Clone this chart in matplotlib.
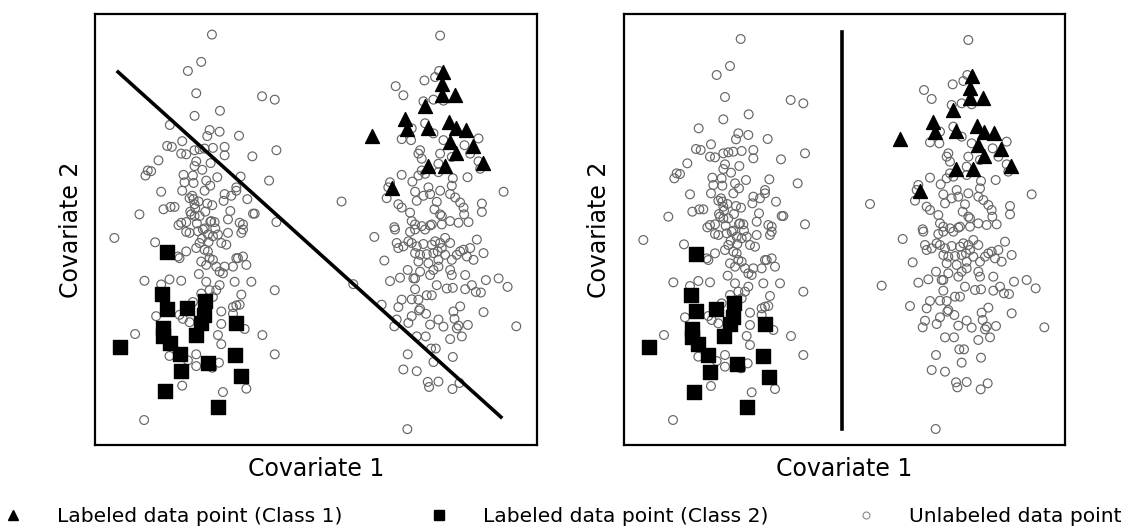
import numpy as np
import matplotlib
matplotlib.use("Agg")
import matplotlib.pyplot as plt
from matplotlib.lines import Line2D

# Puntos etiquetados, clase 1 (triángulos)
class1_x = [1043, 1038, 1038, 1078, 988, 928, 933, 996, 828, 1060, 1080, 1111,
            1063, 1131, 1080, 996, 1048, 1161, 888]
class1_y = [185, 223, 253, 253, 288, 325, 355, 351, 376, 335, 353, 358,
            393, 406, 426, 465, 466, 456, 531]

# Puntos etiquetados, clase 2 (cuadrados)
class2_x = [216, 201, 215, 275, 330, 326, 318, 301, 205, 203, 223, 75, 253,
            423, 418, 338, 258, 436, 210, 368]
class2_y = [721, 843, 890, 886, 866, 908, 931, 966, 946, 968, 991, 1000, 1023,
            930, 1025, 1050, 1073, 1088, 1133, 1178]

# Puntos sin etiqueta
unl_left = [
    (350, 75), (318, 156), (278, 183), (303, 249), (500, 258), (538, 268), (374, 301),
    (298, 316), (224, 343), (343, 358), (336, 376), (373, 363), (431, 375), (261, 391),
    (216, 405), (230, 408), (298, 418), (313, 415), (328, 413), (353, 411), (388, 408),
    (388, 433), (258, 428), (273, 430), (543, 418), (471, 436), (190, 448), (303, 451),
    (298, 465), (346, 456), (321, 476), (158, 478), (168, 480), (151, 493), (265, 491),
    (293, 493), (366, 498), (436, 496), (521, 508), (268, 513), (295, 515), (333, 508),
    (345, 523), (198, 541), (261, 538), (291, 553), (295, 563), (298, 578), (328, 538),
    (388, 548), (408, 553), (423, 528), (423, 538), (336, 576), (351, 581), (385, 568),
    (405, 598), (456, 563), (226, 586), (238, 586), (205, 593), (133, 608), (473, 606),
    (478, 606), (543, 631), (258, 633), (273, 631), (288, 608), (298, 613), (313, 613),
    (348, 628), (358, 631), (398, 623), (433, 633), (443, 638), (283, 560), (300, 590),
    (285, 600), (310, 570), (330, 600), (345, 630), (360, 650), (328, 650), (250, 640),
    (305, 635), (320, 680), (340, 690),
    (58, 678), (180, 691), (273, 660), (283, 663), (308, 658), (323, 653), (338, 668),
    (353, 673), (368, 668), (378, 693), (398, 663), (393, 698), (438, 663), (443, 653),
    (248, 733), (253, 738), (273, 718), (303, 708), (313, 693), (328, 713), (338, 718),
    (343, 738), (318, 748), (333, 758), (353, 743), (363, 763), (373, 778), (383, 783),
    (388, 763), (413, 763), (423, 738), (428, 738), (443, 733), (453, 758), (148, 805),
    (198, 816), (223, 801), (258, 805), (311, 785), (333, 808), (373, 818), (363, 833),
    (418, 808), (468, 808), (538, 833), (318, 843), (343, 833), (353, 853), (438, 846),
    (413, 883), (423, 878), (433, 876), (293, 868), (183, 910), (253, 906), (263, 918),
    (283, 928), (378, 896), (378, 933), (368, 966), (378, 993), (448, 948), (501, 966),
    (120, 963), (413, 903), (223, 1028), (278, 1041), (303, 1023), (303, 1058),
    (351, 1063), (371, 1048), (538, 1023), (261, 1116), (383, 1135), (453, 1125),
    (147, 1218),
]
unl_right = [
    (1033, 78), (1030, 183), (1018, 201), (986, 211), (900, 228), (923, 255), (983, 273),
    (1013, 268), (1043, 271), (988, 338), (1013, 368), (948, 353), (918, 385), (946, 388),
    (1043, 388), (1148, 383), (973, 418), (968, 428), (978, 443), (1033, 428), (1028, 458),
    (1068, 438), (1106, 403), (1123, 428), (1148, 451), (1153, 473), (918, 491), (950, 511),
    (968, 493), (978, 478), (988, 488), (1028, 483), (1071, 501), (1068, 523), (1115, 498),
    (1223, 541), (738, 570), (883, 513), (878, 528), (873, 560), (958, 541), (983, 553),
    (1003, 548), (998, 528), (1033, 538), (1063, 548), (1078, 558), (1093, 573), (963, 568),
    (908, 578), (918, 588), (943, 603), (1023, 571), (1016, 593), (1038, 613), (1033, 608),
    (1103, 588), (1105, 608), (1158, 576), (1158, 601), (948, 628), (958, 638), (978, 643),
    (1003, 641), (1008, 638), (1038, 638), (1063, 628), (1088, 633), (1118, 631), (896, 646),
    (836, 675), (898, 653), (943, 660), (958, 653), (988, 653), (903, 693), (908, 708),
    (923, 703), (938, 688), (948, 693), (963, 703), (983, 696), (1008, 698), (1018, 688),
    (1033, 693), (1048, 678), (1063, 693), (1038, 708), (1026, 718), (1013, 723), (993, 726),
    (973, 728), (958, 723), (968, 748), (998, 753), (1028, 743), (1048, 728), (1068, 743),
    (1083, 728), (1093, 718), (1103, 713), (1123, 708), (1143, 683), (1163, 723),
    (1133, 743), (1113, 733), (866, 745), (773, 815), (883, 806), (913, 796), (936, 773),
    (953, 798), (958, 798), (973, 778), (1003, 788), (1013, 773), (1028, 763), (1063, 773),
    (1068, 788), (1108, 788), (1170, 803), (1208, 798), (1235, 823), (958, 830), (1023, 818),
    (1053, 828), (1071, 826), (1108, 830), (1128, 818), (1140, 838), (1155, 840), (918, 861),
    (948, 860), (968, 861), (993, 848), (1008, 848), (858, 876), (908, 883), (973, 888),
    (970, 893), (991, 903), (1093, 881), (1073, 896), (1163, 898), (903, 920), (896, 940),
    (938, 930), (948, 910), (1003, 935), (1028, 920), (1043, 941), (1076, 918), (1083, 946),
    (1088, 938), (1116, 936), (1098, 970), (1063, 978), (1261, 940), (963, 970), (990, 970),
    (1006, 1006), (1020, 1006), (936, 1023), (1013, 1046), (1071, 1031), (923, 1068),
    (963, 1073), (996, 1105), (1000, 1120), (1028, 1104), (1070, 1126), (1091, 1108),
    (935, 1245),
]

# Fronteras de decisión (mismo convenio: vertical medido desde arriba)
boundary_left_x = [69, 1215]
boundary_left_y = [186, 1209]
boundary_right_x = [655, 655]
boundary_right_y = [55, 1245]

H = 1293  # altura del rango vertical
unl = np.array(unl_left + unl_right, dtype=float)
ux, uy = unl[:, 0], H - unl[:, 1]
c1x, c1y = np.array(class1_x), H - np.array(class1_y)
c2x, c2y = np.array(class2_x), H - np.array(class2_y)

fig = plt.figure(figsize=(11.48, 5.29), dpi=100)
W, Hf = 1148, 529
ax1 = fig.add_axes([95 / W, (Hf - 445) / Hf, 442 / W, 431 / Hf])
ax2 = fig.add_axes([624 / W, (Hf - 445) / Hf, 441 / W, 431 / Hf])

for ax in (ax1, ax2):
    ax.scatter(ux, uy, s=40, facecolors='none', edgecolors='#666666', linewidths=0.85, zorder=2)
    ax.scatter(c1x, c1y, s=100, marker='^', color='black', zorder=3)
    ax.scatter(c2x, c2y, s=90, marker='s', color='black', zorder=3)
    ax.set_xlim(0, 1323)
    ax.set_xticks([])
    ax.set_yticks([])
    for sp in ax.spines.values():
        sp.set_linewidth(1.6)
    ax.set_xlabel('Covariate 1', fontsize=17, labelpad=9)
    ax.set_ylabel('Covariate 2', fontsize=17, labelpad=9)

ax1.set_ylim(1, 1279)
ax2.set_ylim(0, H)

ax1.plot(boundary_left_x, H - np.array(boundary_left_y), color='black', lw=2.6, zorder=4)
ax2.plot(boundary_right_x, H - np.array(boundary_right_y), color='black', lw=2.6, zorder=4)

handles = [
    Line2D([], [], ls='none', marker='^', color='black', markersize=7),
    Line2D([], [], ls='none', marker='s', color='black', markersize=7),
    Line2D([], [], ls='none', marker='o', markerfacecolor='none', markeredgecolor='#888888',
           markersize=5, markeredgewidth=0.8),
]
labels = ['Labeled data point (Class 1)', 'Labeled data point (Class 2)', 'Unlabeled data point']
fig.legend(handles, labels, loc='lower left', bbox_to_anchor=(0.0, 0.0), ncol=3,
           frameon=False, fontsize=14.6, handlelength=1.0, handletextpad=1.65,
           columnspacing=4.3, borderpad=0.15, borderaxespad=0.0)

fig.savefig('out.png', dpi=100)
